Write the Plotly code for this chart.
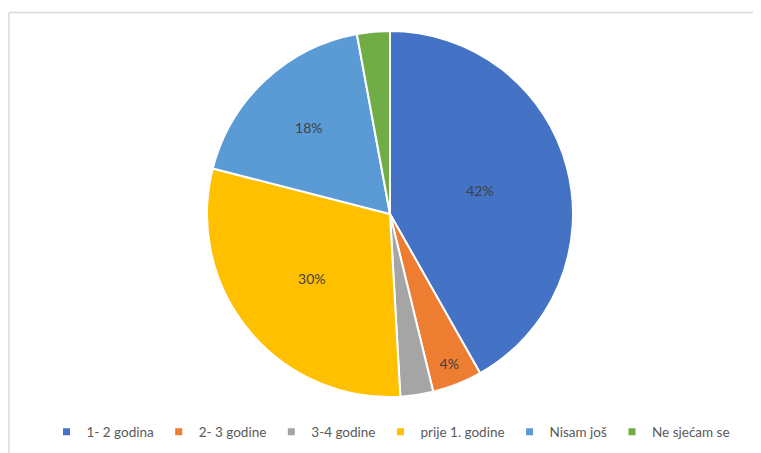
import plotly.graph_objects as go

categories = ["1- 2 godina", "2- 3 godine", "3-4 godine", "prije 1. godine", "Nisam još", "Ne sjećam se"]
values = [41.8, 4.4, 2.9, 29.9, 18.1, 2.9]
show_label = [True, True, False, True, True, False]
colors = ["#4472C4", "#ED7D31", "#A5A5A5", "#FFC000", "#5B9BD5", "#70AD47"]

# page body adds an 8px offset; work in figure pixel coordinates
W, H = 753, 445
mt, mb = 23, 56
ph = H - mt - mb
cx, r = 382, ph / 2

fig = go.Figure(go.Pie(
    labels=categories,
    values=values,
    sort=False,
    direction="clockwise",
    rotation=0,
    marker=dict(colors=colors, line=dict(color="white", width=2)),
    texttemplate=["%{percent:.0%}" if s else "" for s in show_label],
    textposition="inside",
    insidetextorientation="horizontal",
    textfont=dict(color="#404040", size=14, family="Lato, sans-serif"),
    domain=dict(x=[(cx - r) / W, (cx + r) / W], y=[0, 1]),
    hoverinfo="label+percent",
    showlegend=False,
))

# legend entries with small square markers
for name, col in zip(categories, colors):
    fig.add_trace(go.Scatter(x=[None], y=[None], mode="markers", name=name,
                             marker=dict(symbol="square", size=7, color=col),
                             showlegend=True, hoverinfo="skip"))

def px_x(x):
    return x / W

def px_y(y):
    return (H - mb - y) / ph

fig.add_shape(type="line", xref="paper", yref="paper",
              x0=px_x(1), x1=px_x(1), y0=px_y(500), y1=px_y(4.5),
              line=dict(color="#d9d9d9", width=1.5))
fig.add_shape(type="line", xref="paper", yref="paper",
              x0=px_x(1), x1=px_x(W + 60), y0=px_y(4.5), y1=px_y(4.5),
              line=dict(color="#d9d9d9", width=1.5))

fig.update_layout(
    width=W, height=H,
    margin=dict(l=0, r=0, t=mt, b=mb),
    paper_bgcolor="white",
    plot_bgcolor="white",
    xaxis=dict(visible=False),
    yaxis=dict(visible=False),
    font=dict(family="Lato, sans-serif", color="#595959", size=13),
    legend=dict(orientation="h", x=383 / W, xanchor="center", y=px_y(424), yanchor="middle",
                font=dict(size=13.5, color="#595959"), itemwidth=30, tracegroupgap=0),
)

fig.write_html("out.html", config={"displayModeBar": False})
